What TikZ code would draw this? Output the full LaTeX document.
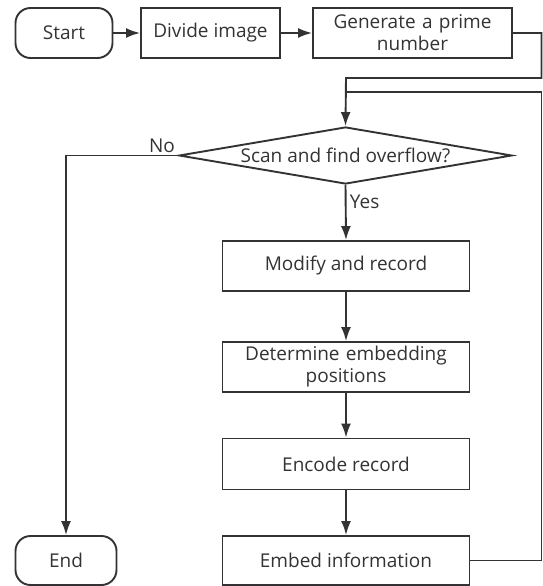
\documentclass[tikz,border=0pt]{standalone}
\usepackage{fontspec}
\setmainfont{Open Sans}
\usepackage{xcolor}
\usetikzlibrary{shapes.geometric, arrows.meta}
\definecolor{ink}{HTML}{333333}
\tikzset{
  flowbox/.style={draw=ink, line width=1.9pt, text=ink, align=center, inner sep=2pt},
  terminal/.style={flowbox, rounded corners=15pt},
  decision/.style={flowbox, diamond, aspect=5.8, inner sep=-6pt},
  flowline/.style={draw=ink, line width=1.9pt},
  flowarrow/.style={flowline, -{Latex[length=14pt, width=10pt]}}
}

\begin{document}
\begin{tikzpicture}[x=1pt, y=-1pt, font=\fontsize{19}{22}\selectfont]
\useasboundingbox (0,0) rectangle (543,586);
\node[terminal, minimum width=97pt, minimum height=50pt] (start) at (64,33) {Start};
\node[flowbox, minimum width=139pt, minimum height=50pt] (divide) at (210.5,33) {Divide image};
\node[flowbox, minimum width=199pt, minimum height=50pt, text width=190pt] (prime) at (412.5,33) {Generate a prime\\number};
\node[decision, minimum width=333pt, minimum height=57pt] (scan) at (345.5,155.5) {Scan and find overflow?};
\node[flowbox, minimum width=247pt, minimum height=50pt] (modify) at (346,266) {Modify and record};
\node[flowbox, minimum width=247pt, minimum height=50pt, text width=240pt] (determine) at (346,367) {Determine embedding\\positions};
\node[flowbox, minimum width=247pt, minimum height=51pt] (encode) at (346,464) {Encode record};
\node[flowbox, minimum width=247pt, minimum height=49pt] (embed) at (346,560.5) {Embed information};
\node[terminal, minimum width=101pt, minimum height=49pt] (end) at (66,560.5) {End};
\coordinate (rightup) at (541.5,33);
\coordinate (rightdown) at (541.5,560.5);
\coordinate (joinA) at (346,78);
\coordinate (joinB) at (346,92);
\coordinate (nocorner) at (66,155.5);
\draw[flowarrow] (start) -- (divide);
\draw[flowarrow] (divide) -- (prime);
\draw[flowarrow] (prime.east) -- (rightup) -- (rightup |- joinA) -- (joinA) -- (scan.north);
\draw[flowline] (embed.east) -- (rightdown) -- (rightdown |- joinB) -- (joinB);
\draw[flowarrow] (scan.west) -- (nocorner) -- (end.north);
\node[text=ink, anchor=south east, inner sep=1pt] (nolabel) at (176,154) {No};
\draw[flowarrow] (scan.south) -- (modify.north) node[pos=0.3, anchor=west, text=ink] (yeslabel) {Yes};
\draw[flowarrow] (modify) -- (determine);
\draw[flowarrow] (determine) -- (encode);
\draw[flowarrow] (encode) -- (embed);
\end{tikzpicture}
\end{document}
